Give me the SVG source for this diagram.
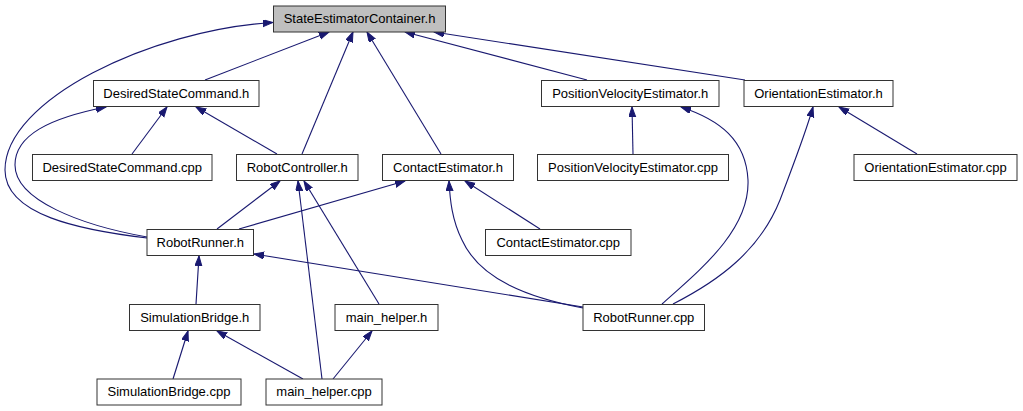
<svg xmlns="http://www.w3.org/2000/svg" width="1023" height="411" viewBox="0 0 1023 411">
<style>
.n rect{fill:#fff;stroke:#333;stroke-width:1}
.n.root rect{fill:#bfbfbf}
.n text{font-family:"Liberation Sans",Arial,sans-serif;font-size:13px;fill:#000;text-anchor:middle}
.e path{fill:none;stroke:#191970;stroke-width:1.1;marker-end:url(#ah)}
</style>
<defs>
<marker id="ah" markerUnits="userSpaceOnUse" markerWidth="11" markerHeight="8" refX="10" refY="3.5" orient="auto">
<path d="M0,0 L10,3.5 L0,7 z" fill="#191970" stroke="#191970" stroke-width="1"/>
</marker>
</defs>
<rect width="1023" height="411" fill="#fff"/>
<g id="edges" class="e">
<path d="M205,80 L329,32"/>
<path d="M147,238 C80,230 5,215 5,170 C5,100 150,30 273,22.5"/>
<path d="M132,154 L167,107"/>
<path d="M277,154 L196,107"/>
<path d="M147,237 C80,225 15,200 15,165 C15,135 50,118 106,107"/>
<path d="M302,154 L353,32"/>
<path d="M441,154 L367,32"/>
<path d="M587,80 L405,32"/>
<path d="M745,80 L434,32"/>
<path d="M633,154 L632,107"/>
<path d="M662,304 C700,270 750,230 748,180 C746,140 720,120 681,107"/>
<path d="M673,304 C720,280 760,250 780,200 C795,160 805,135 813,107"/>
<path d="M917,154 L839,107"/>
<path d="M217,229 L280,181"/>
<path d="M322,379 L298,181"/>
<path d="M379,304 L304,181"/>
<path d="M239,229 L405,181"/>
<path d="M540,229 L465,181"/>
<path d="M583,308 C530,298 480,280 462,240 C452,220 450,200 449,181"/>
<path d="M583,307 L254,254"/>
<path d="M196,304 L199,256"/>
<path d="M173,379 L188,331"/>
<path d="M303,379 L217,331"/>
<path d="M333,379 L372,331"/>
</g>
<g id="n_sec" class="n root"><rect x="273.5" y="6" width="172" height="26"/><text x="359.5" y="23">StateEstimatorContainer.h</text></g>
<g id="n_dsch" class="n"><rect x="93.5" y="80.5" width="165.5" height="26"/><text x="176.25" y="97.5">DesiredStateCommand.h</text></g>
<g id="n_pveh" class="n"><rect x="541.5" y="80.5" width="177.5" height="26"/><text x="630.25" y="97.5">PositionVelocityEstimator.h</text></g>
<g id="n_oeh" class="n"><rect x="744" y="80.5" width="149" height="26"/><text x="818.5" y="97.5">OrientationEstimator.h</text></g>
<g id="n_dsccpp" class="n"><rect x="32.5" y="154.5" width="179.5" height="26"/><text x="122.25" y="171.5">DesiredStateCommand.cpp</text></g>
<g id="n_rch" class="n"><rect x="236.5" y="154.5" width="121.5" height="26"/><text x="297.25" y="171.5">RobotController.h</text></g>
<g id="n_ceh" class="n"><rect x="382.5" y="154.5" width="131" height="26"/><text x="448" y="171.5">ContactEstimator.h</text></g>
<g id="n_pvecpp" class="n"><rect x="537.5" y="154.5" width="191" height="26"/><text x="633" y="171.5">PositionVelocityEstimator.cpp</text></g>
<g id="n_oecpp" class="n"><rect x="854" y="154.5" width="163" height="26"/><text x="935.5" y="171.5">OrientationEstimator.cpp</text></g>
<g id="n_rrh" class="n"><rect x="147" y="229.5" width="106.5" height="26"/><text x="200.25" y="246.5">RobotRunner.h</text></g>
<g id="n_cecpp" class="n"><rect x="485.5" y="229.5" width="145.5" height="26"/><text x="558.25" y="246.5">ContactEstimator.cpp</text></g>
<g id="n_sbh" class="n"><rect x="129.5" y="304.5" width="130.5" height="26"/><text x="194.75" y="321.5">SimulationBridge.h</text></g>
<g id="n_mhh" class="n"><rect x="335" y="304.5" width="103" height="26"/><text x="386.5" y="321.5">main_helper.h</text></g>
<g id="n_rrcpp" class="n"><rect x="583" y="304.5" width="121.5" height="26"/><text x="643.75" y="321.5">RobotRunner.cpp</text></g>
<g id="n_sbcpp" class="n"><rect x="97" y="379" width="144" height="26"/><text x="169" y="396">SimulationBridge.cpp</text></g>
<g id="n_mhcpp" class="n"><rect x="266" y="379" width="116" height="26"/><text x="324" y="396">main_helper.cpp</text></g>
</svg>
